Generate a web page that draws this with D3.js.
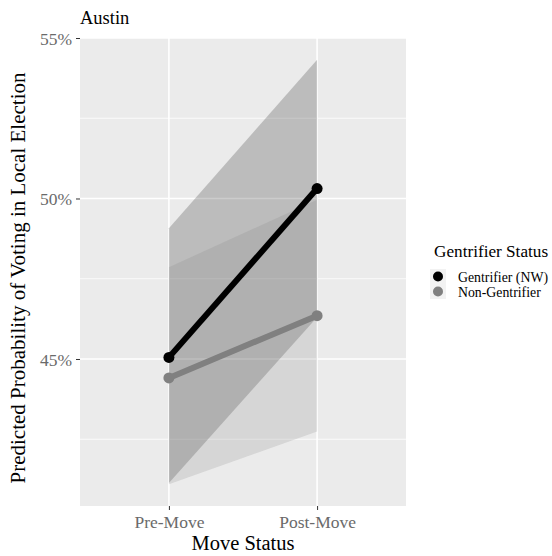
<!DOCTYPE html>
<html><head><meta charset="utf-8">
<script src="https://cdn.jsdelivr.net/npm/d3@7"></script>
<style>body{margin:0;background:#fff}svg{display:block;font-family:"Liberation Serif","Times New Roman",serif}</style>
</head><body><svg id="c" width="552" height="556"></svg>
<script>
const categories = ["Pre-Move", "Post-Move"];
const groups = ["Gentrifier (NW)", "Non-Gentrifier"];
const gentrifierMean = [45.05, 50.31];
const gentrifierLower = [41.14, 46.30];
const gentrifierUpper = [49.07, 54.32];
const nonGentrifierMean = [44.41, 46.35];
const nonGentrifierLower = [41.10, 42.74];
const nonGentrifierUpper = [47.86, 49.96];
const yTicks = [45, 50, 55];
const yMinor = [42.5, 47.5, 52.5];
const yDomain = [40.42, 55.0];

const series = [
  {name: groups[0], mean: gentrifierMean, lo: gentrifierLower, hi: gentrifierUpper, color: "#000000"},
  {name: groups[1], mean: nonGentrifierMean, lo: nonGentrifierLower, hi: nonGentrifierUpper, color: "#808080"}
];

const svg = d3.select("#c");
const P = {l: 80, r: 406, t: 38, b: 506};
const xs = d3.scaleLinear().domain([0.4, 2.6]).range([P.l, P.r]);
const xp = c => xs(categories.indexOf(c) + 1);
const y = d3.scaleLinear().domain(yDomain).range([P.b, P.t]);

svg.append("rect").attr("x", P.l).attr("y", P.t).attr("width", P.r - P.l).attr("height", P.b - P.t).attr("fill", "#EBEBEB");
const g = svg.append("g");
yMinor.forEach(v => g.append("line").attr("x1", P.l).attr("x2", P.r).attr("y1", y(v)).attr("y2", y(v)).attr("stroke", "#fff").attr("stroke-width", 0.8));
yTicks.forEach(v => g.append("line").attr("x1", P.l).attr("x2", P.r).attr("y1", y(v)).attr("y2", y(v)).attr("stroke", "#fff").attr("stroke-width", 1.6));
categories.forEach(c => g.append("line").attr("x1", xp(c)).attr("x2", xp(c)).attr("y1", P.t).attr("y2", P.b).attr("stroke", "#fff").attr("stroke-width", 1.6));

const area = d3.area().x((d, i) => xp(categories[i])).y0(d => y(d[0])).y1(d => y(d[1]));
series.forEach(s => {
  g.append("path").datum(s.lo.map((v, i) => [v, s.hi[i]])).attr("d", area).attr("fill", s.color).attr("fill-opacity", 0.2);
});
const line = d3.line().x((d, i) => xp(categories[i])).y(d => y(d));
series.forEach(s => {
  g.append("path").datum(s.mean).attr("d", line).attr("fill", "none").attr("stroke", s.color).attr("stroke-width", 6);
  s.mean.forEach((v, i) => g.append("circle").attr("cx", xp(categories[i])).attr("cy", y(v)).attr("r", 5.5).attr("fill", s.color));
});

// axes
const yAx = svg.append("g").attr("transform", `translate(${P.l},0)`)
  .call(d3.axisLeft(y).tickValues(yTicks).tickFormat(d => d + "%").tickSize(4).tickPadding(4));
yAx.select(".domain").remove();
yAx.selectAll("line").attr("stroke", "#333").attr("stroke-width", 1);
yAx.selectAll("text").attr("fill", "#6a6a6a").attr("font-size", 17.5).attr("font-family", "Liberation Serif").attr("dy", "0.35em");

const xAx = svg.append("g").attr("transform", `translate(0,${P.b})`)
  .call(d3.axisBottom(xs).tickValues([1, 2]).tickFormat(d => categories[d - 1]).tickSize(4).tickPadding(6));
xAx.select(".domain").remove();
xAx.selectAll("line").attr("stroke", "#333").attr("stroke-width", 1);
xAx.selectAll("text").attr("fill", "#6a6a6a").attr("font-size", 17.5).attr("font-family", "Liberation Serif");

svg.append("text").attr("x", 80).attr("y", 24).attr("font-size", 18.5).attr("fill", "#000").text("Austin");
svg.append("text").attr("x", (P.l + P.r) / 2).attr("y", 550).attr("text-anchor", "middle").attr("font-size", 20.5).text("Move Status");
svg.append("text").attr("transform", `translate(25,${(P.t + P.b) / 2 + 6}) rotate(-90)`).attr("text-anchor", "middle").attr("font-size", 21).text("Predicted Probability of Voting in Local Election");

// legend
const L = svg.append("g");
L.append("text").attr("x", 434).attr("y", 257).attr("font-size", 17.2).text("Gentrifier Status");
series.forEach((s, i) => {
  const cy = 276.5 + i * 15;
  L.append("rect").attr("x", 430).attr("y", cy - 7.5).attr("width", 16).attr("height", 15).attr("fill", "#F2F2F2");
  L.append("circle").attr("cx", 438).attr("cy", cy).attr("r", 5).attr("fill", s.color);
  L.append("text").attr("x", 458).attr("y", cy + 5).attr("font-size", 13.8).text(s.name);
});
</script></body></html>
